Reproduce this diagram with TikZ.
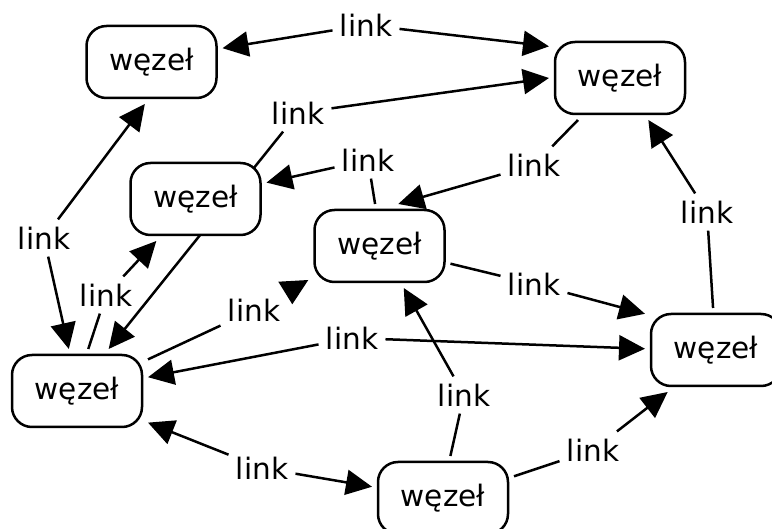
\documentclass[tikz,border=0pt]{standalone}
\usepackage{fontspec}
\setmainfont{DejaVu Sans}
\usetikzlibrary{arrows.meta,calc,backgrounds}

\begin{document}
\begin{tikzpicture}[x=0.5pt,y=-0.5pt,
  concept/.style={draw, line width=1.25pt, rounded corners=10pt, fill=white,
    minimum width=65pt, minimum height=36pt, inner sep=0pt, outer sep=3pt,
    font=\fontsize{14.75}{17}\selectfont},
  linkname/.style={inner sep=3.5pt, font=\fontsize{14.75}{17}\selectfont},
  conn/.style={line width=1.25pt},
  arr/.style={conn, -{Triangle[length=13pt,width=12.5pt]}},
]
\clip (0,0) rectangle (772,529);
\useasboundingbox (0,0) rectangle (772,529);

% concepts
\node[concept] (tl) at (151.5,62) {węzeł};
\node[concept] (tr) at (620,78) {węzeł};
\node[concept] (ml) at (195.5,199) {węzeł};
\node[concept] (c) at (379.5,246) {węzeł};
\node[concept] (r) at (716,350) {węzeł};
\node[concept] (l) at (77,391) {węzeł};
\node[concept] (b) at (443,498) {węzeł};

% linking phrases
\node[linkname] (k1) at (366,25) {link};
\node[linkname] (k2) at (298,113) {link};
\node[linkname] (k3) at (368,160) {link};
\node[linkname] (k4) at (534,165) {link};
\node[linkname] (k5) at (707,212) {link};
\node[linkname] (k6) at (44,238) {link};
\node[linkname] (k7) at (106,295) {link};
\node[linkname] (k9) at (254,310) {link};
\node[linkname] (k10) at (352,338) {link};
\node[linkname] (k11) at (534,284) {link};
\node[linkname] (k12) at (464,395) {link};
\node[linkname] (k13) at (593,450) {link};
\node[linkname] (k14) at (262,468) {link};

\begin{scope}[on background layer]
  \draw[arr] (k1) -- (tl.11.8);
  \draw[arr] (k1) -- (tr.156);
  \draw[arr] (k2) -- (tr.180);
  \draw[arr] (k2) -- (l.53);
  \draw[conn] (c.96) -- (k3);
  \draw[arr] (k3) -- (ml.13.4);
  \draw[conn] (tr.225) -- (k4);
  \draw[arr] (k4) -- (c.66.7);
  \draw[conn] (r.94) -- (k5);
  \draw[arr] (k5) -- (tr.-56.3);
  \draw[arr] (k6) -- (tl.-99);
  \draw[arr] (k6) -- (l.101.8);
  \draw[conn] (l.75) -- (k7);
  \draw[arr] (k7) -- (ml.-133.3);
  \draw[conn] (l.24.5) -- (k9);
  \draw[arr] (k10) -- (l.11.3);
  \draw[arr] (k10) -- (r.179.2);
  \draw[conn] (c.-14) -- (k11);
  \draw[arr] (k11) -- (r.153.8);
  \draw[conn] (b.80.3) -- (k12);
  \draw[arr] (k12) -- (c.-60.8);
  \draw[conn] (b.17.2) -- (k13);
  \draw[arr] (k13) -- (r.-139.4);
  \draw[arr] (k14) -- (l.-24.6);
  \draw[arr] (k14) -- (b.171);
\end{scope}

% arrowhead below the centre concept
\fill ($(c.center)+(-101.2,35.7)$) -- ($(c.center)+(-71.2,34)$)
  -- ($(c.center)+(-87.2,58.3)$) -- cycle;
\end{tikzpicture}
\end{document}
